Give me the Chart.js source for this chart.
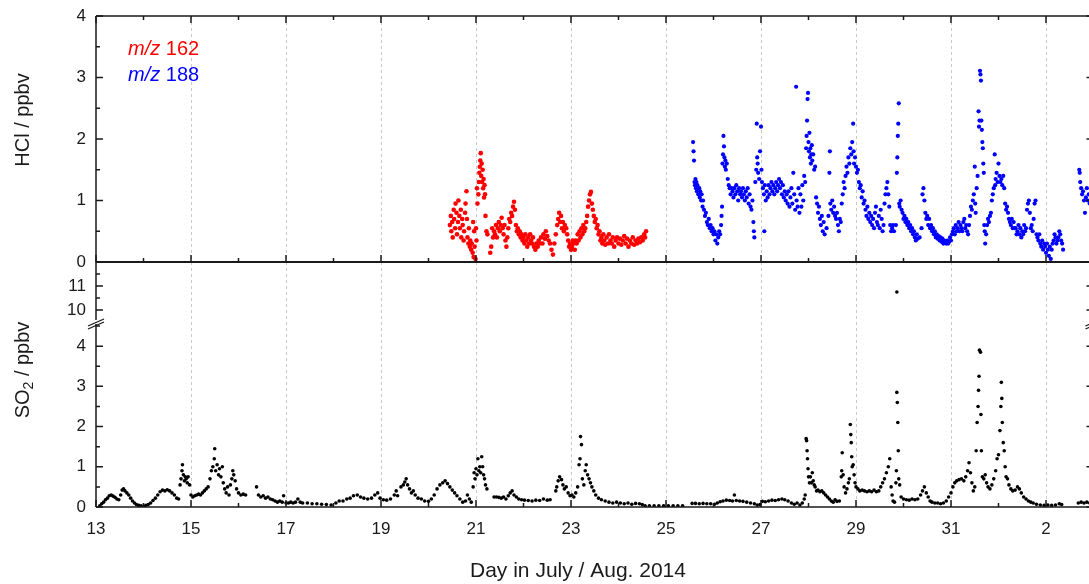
<!DOCTYPE html>
<html>
<head>
<meta charset="utf-8">
<script src="https://cdn.jsdelivr.net/npm/chart.js"></script>
<style>
  html, body { margin: 0; padding: 0; background: #fff; overflow: hidden; }
  #chart { display: block; width: 1100px; height: 584px; }
</style>
</head>
<body>
<canvas id="chart" width="1100" height="584"></canvas>
<script>
// x tick labels (odd days, July 13 .. Aug 2)
const dayTicks = [13, 15, 17, 19, 21, 23, 25, 27, 29, 31, 33];
const dayLabels = ["13", "15", "17", "19", "21", "23", "25", "27", "29", "31", "2"];
const hclTicks = [0, 1, 2, 3, 4];
const so2LowTicks = [0, 1, 2, 3, 4];
const so2HighTicks = [10, 11];

// HCl, m/z 162 [day, ppbv]
const hcl162 = [
  [20.45,0.6],[20.47,0.75],[20.48,0.5],[20.5,0.65],[20.51,0.4],[20.53,0.85],[20.54,0.7],[20.56,0.55],
  [20.57,0.95],[20.59,0.8],[20.6,0.45],[20.62,0.65],[20.63,1.0],[20.65,0.75],[20.66,0.55],[20.68,0.85],
  [20.69,0.4],[20.71,0.7],[20.72,0.6],[20.74,0.35],[20.75,0.5],[20.77,0.8],[20.78,0.95],[20.8,1.15],
  [20.81,0.7],[20.82,0.4],[20.84,0.3],[20.85,0.55],[20.87,0.25],[20.88,0.35],[20.9,0.2],[20.91,0.3],
  [20.93,0.15],[20.94,0.65],[20.95,0.08],[20.96,0.5],[20.97,0.25],[20.99,0.05],[21.0,0.55],[21.01,0.35],
  [21.02,1.2],[21.03,0.95],[21.05,1.1],[21.06,1.3],[21.07,1.45],[21.08,1.55],[21.09,1.65],[21.1,1.77],
  [21.11,1.4],[21.12,1.6],[21.13,1.3],[21.14,1.5],[21.15,1.2],[21.16,1.35],[21.17,1.05],[21.18,1.25],
  [21.19,1.1],[21.2,0.75],[21.22,0.5],[21.24,0.45],[21.3,0.15],[21.32,0.25],[21.34,0.55],[21.36,0.4],
  [21.38,0.5],[21.4,0.45],[21.42,0.6],[21.44,0.4],[21.46,0.55],[21.48,0.65],[21.5,0.5],[21.52,0.6],
  [21.54,0.72],[21.56,0.55],[21.58,0.45],[21.6,0.6],[21.62,0.35],[21.64,0.25],[21.66,0.4],[21.68,0.55],
  [21.7,0.7],[21.72,0.65],[21.74,0.8],[21.76,0.75],[21.78,0.9],[21.8,0.98],[21.82,0.85],[21.84,0.6],
  [21.86,0.5],[21.88,0.55],[21.9,0.45],[21.92,0.5],[21.94,0.4],[21.96,0.45],[21.98,0.35],[22.0,0.4],
  [22.02,0.3],[22.04,0.45],[22.06,0.35],[22.08,0.25],[22.1,0.4],[22.12,0.3],[22.14,0.45],[22.16,0.35],
  [22.18,0.3],[22.2,0.4],[22.22,0.25],[22.25,0.2],[22.27,0.3],[22.3,0.25],[22.32,0.35],[22.34,0.3],
  [22.37,0.4],[22.4,0.3],[22.42,0.45],[22.45,0.38],[22.47,0.5],[22.5,0.42],[22.53,0.35],[22.56,0.3],
  [22.59,0.2],[22.62,0.12],[22.65,0.3],[22.68,0.45],[22.71,0.6],[22.73,0.7],[22.75,0.8],[22.77,0.65],
  [22.79,0.75],[22.81,0.55],[22.83,0.65],[22.85,0.5],[22.87,0.6],[22.9,0.55],[22.92,0.45],[22.94,0.35],
  [22.96,0.25],[22.98,0.3],[23.0,0.2],[23.02,0.25],[23.04,0.35],[23.06,0.3],[23.08,0.2],[23.1,0.35],
  [23.12,0.3],[23.14,0.45],[23.16,0.35],[23.18,0.5],[23.2,0.4],[23.22,0.55],[23.24,0.45],[23.26,0.6],
  [23.28,0.5],[23.3,0.55],[23.32,0.65],[23.34,0.75],[23.36,0.9],[23.38,1.0],[23.4,1.1],[23.42,1.14],
  [23.44,0.95],[23.46,0.85],[23.48,0.75],[23.5,0.65],[23.52,0.7],[23.54,0.55],[23.56,0.6],[23.58,0.45],
  [23.6,0.5],[23.62,0.35],[23.64,0.4],[23.66,0.3],[23.68,0.45],[23.7,0.35],[23.72,0.28],[23.75,0.4],
  [23.78,0.3],[23.8,0.45],[23.83,0.35],[23.86,0.3],[23.88,0.4],[23.91,0.25],[23.94,0.35],[23.97,0.4],
  [24.0,0.3],[24.03,0.38],[24.06,0.28],[24.09,0.35],[24.12,0.42],[24.15,0.3],[24.18,0.38],[24.21,0.25],
  [24.24,0.35],[24.27,0.3],[24.3,0.4],[24.33,0.28],[24.36,0.35],[24.39,0.3],[24.42,0.38],[24.45,0.32],
  [24.48,0.4],[24.51,0.35],[24.54,0.45],[24.56,0.4],[24.58,0.5]
];

// HCl, m/z 188 [day, ppbv]
const hcl188 = [
  [25.57,1.95],[25.58,1.8],[25.59,1.65],[25.6,1.3],[25.61,1.25],[25.62,1.35],[25.63,1.2],[25.64,1.3],
  [25.65,1.15],[25.66,1.25],[25.67,1.2],[25.68,1.1],[25.7,1.2],[25.71,1.05],[25.72,1.15],[25.74,1.0],
  [25.75,1.1],[25.77,0.9],[25.78,1.0],[25.8,0.85],[25.82,0.75],[25.84,0.8],[25.86,0.65],[25.88,0.6],
  [25.9,0.7],[25.92,0.55],[25.94,0.6],[25.96,0.5],[25.98,0.55],[26.0,0.45],[26.02,0.5],[26.04,0.35],
  [26.06,0.45],[26.08,0.3],[26.1,0.4],[26.12,0.5],[26.14,0.45],[26.16,0.6],[26.17,0.75],[26.18,0.9],
  [26.19,1.6],[26.2,1.75],[26.21,2.05],[26.22,1.88],[26.23,1.7],[26.24,1.55],[26.25,1.65],[26.26,1.5],
  [26.28,1.6],[26.3,1.35],[26.32,1.25],[26.34,1.2],[26.36,1.1],[26.38,1.2],[26.4,1.15],[26.42,1.05],
  [26.44,1.2],[26.46,1.1],[26.48,1.25],[26.5,1.15],[26.52,1.0],[26.54,1.2],[26.56,1.1],[26.58,1.15],
  [26.6,1.05],[26.62,1.2],[26.64,1.1],[26.66,1.0],[26.68,1.15],[26.7,1.05],[26.72,1.2],[26.74,0.95],
  [26.76,1.1],[26.78,0.9],[26.8,0.85],[26.82,1.0],[26.84,0.65],[26.85,0.5],[26.86,0.4],[26.88,1.3],
  [26.9,1.5],[26.91,2.25],[26.92,1.7],[26.93,1.6],[26.94,1.45],[26.96,1.35],[26.98,1.8],[27.0,2.2],
  [27.01,1.5],[27.02,1.3],[27.04,1.2],[27.06,1.1],[27.07,0.5],[27.08,1.25],[27.1,1.0],[27.12,1.15],
  [27.14,1.05],[27.16,1.25],[27.18,1.1],[27.2,1.2],[27.22,1.3],[27.24,1.15],[27.26,1.25],[27.28,1.1],
  [27.3,1.2],[27.32,1.3],[27.34,1.15],[27.36,1.25],[27.38,1.35],[27.4,1.2],[27.42,1.3],[27.44,1.1],
  [27.46,1.25],[27.48,1.05],[27.5,1.15],[27.52,1.0],[27.54,1.1],[27.56,0.95],[27.58,1.15],[27.6,0.9],
  [27.62,1.05],[27.64,1.2],[27.66,0.95],[27.68,1.45],[27.7,1.1],[27.72,0.85],[27.74,2.85],[27.75,1.0],
  [27.77,0.9],[27.79,1.2],[27.81,0.8],[27.83,1.1],[27.85,0.9],[27.87,1.25],[27.89,1.0],[27.91,1.4],
  [27.93,1.3],[27.95,1.85],[27.96,2.05],[27.97,2.3],[27.98,2.65],[27.99,2.75],[28.0,1.95],[28.01,1.8],
  [28.02,2.1],[28.03,1.7],[28.04,1.85],[28.05,1.6],[28.06,1.75],[28.07,1.9],[28.08,1.65],[28.1,1.75],
  [28.12,1.5],[28.14,1.55],[28.16,1.05],[28.18,0.95],[28.2,0.8],[28.22,0.9],[28.24,0.7],[28.26,0.6],
  [28.28,0.75],[28.3,0.5],[28.32,0.65],[28.34,0.45],[28.38,0.55],[28.42,0.75],[28.44,1.45],[28.45,1.8],
  [28.46,0.95],[28.48,0.85],[28.5,1.0],[28.52,0.8],[28.54,0.9],[28.56,0.75],[28.58,0.7],[28.6,0.8],
  [28.62,0.6],[28.64,0.5],[28.66,0.7],[28.68,0.65],[28.7,0.95],[28.72,1.1],[28.74,1.3],[28.76,1.2],
  [28.78,1.4],[28.8,1.55],[28.82,1.45],[28.84,1.7],[28.86,1.6],[28.88,1.85],[28.9,1.75],[28.92,1.95],
  [28.94,2.25],[28.95,1.8],[28.96,1.6],[28.98,1.7],[29.0,1.55],[29.02,1.45],[29.04,1.5],[29.06,1.3],
  [29.08,1.2],[29.1,1.25],[29.12,1.05],[29.14,1.15],[29.16,0.95],[29.18,1.0],[29.2,0.85],[29.22,0.75],
  [29.24,0.9],[29.26,0.7],[29.28,0.8],[29.3,0.65],[29.32,0.75],[29.34,0.6],[29.36,0.7],[29.38,0.55],
  [29.4,0.8],[29.42,0.9],[29.44,0.65],[29.46,0.6],[29.48,0.75],[29.5,0.55],[29.52,0.85],[29.54,0.7],
  [29.56,0.5],[29.58,0.6],[29.6,0.95],[29.62,1.1],[29.64,1.2],[29.66,1.3],[29.68,1.1],[29.7,0.9],
  [29.72,0.6],[29.74,0.5],[29.76,0.55],[29.78,0.6],[29.8,0.5],[29.84,0.6],[29.86,1.45],[29.87,1.7],
  [29.88,2.05],[29.89,2.25],[29.9,2.58],[29.91,0.95],[29.92,0.9],[29.94,1.0],[29.96,0.85],[29.98,0.8],
  [30.0,0.7],[30.02,0.75],[30.04,0.65],[30.06,0.7],[30.08,0.6],[30.1,0.65],[30.12,0.55],[30.14,0.6],
  [30.16,0.5],[30.18,0.55],[30.2,0.45],[30.22,0.5],[30.24,0.4],[30.26,0.35],[30.28,0.45],[30.3,0.38],
  [30.34,0.4],[30.38,0.55],[30.4,1.1],[30.42,1.2],[30.44,1.0],[30.46,0.8],[30.48,0.7],[30.5,0.75],
  [30.52,0.6],[30.54,0.7],[30.56,0.55],[30.58,0.6],[30.6,0.5],[30.62,0.55],[30.64,0.45],[30.66,0.5],
  [30.68,0.4],[30.7,0.45],[30.72,0.38],[30.74,0.42],[30.76,0.35],[30.78,0.4],[30.8,0.33],[30.82,0.38],
  [30.84,0.3],[30.86,0.35],[30.88,0.32],[30.9,0.3],[30.92,0.35],[30.94,0.3],[30.96,0.33],[30.98,0.4],
  [31.0,0.35],[31.02,0.45],[31.04,0.5],[31.06,0.55],[31.08,0.45],[31.1,0.6],[31.12,0.5],[31.14,0.55],
  [31.16,0.65],[31.18,0.5],[31.2,0.6],[31.22,0.55],[31.24,0.5],[31.26,0.65],[31.28,0.7],[31.3,0.55],
  [31.32,0.6],[31.34,0.5],[31.36,0.45],[31.38,0.6],[31.4,0.75],[31.42,0.9],[31.44,0.85],[31.46,1.0],
  [31.48,1.1],[31.5,1.55],[31.51,0.95],[31.52,0.8],[31.54,1.2],[31.56,1.4],[31.58,2.45],[31.59,2.2],
  [31.6,2.3],[31.61,3.11],[31.62,3.05],[31.63,2.95],[31.64,2.3],[31.65,2.15],[31.66,1.95],[31.67,1.85],
  [31.68,1.6],[31.69,1.45],[31.7,0.6],[31.71,0.5],[31.72,0.3],[31.74,0.45],[31.76,0.6],[31.78,0.7],
  [31.8,0.65],[31.82,0.75],[31.84,0.8],[31.86,1.0],[31.88,1.1],[31.9,1.2],[31.92,1.75],[31.93,1.25],
  [31.94,1.35],[31.96,1.45],[31.98,1.3],[32.0,1.6],[32.02,1.4],[32.04,1.3],[32.06,1.35],[32.08,1.25],
  [32.1,1.4],[32.12,1.2],[32.14,0.95],[32.16,0.85],[32.18,0.9],[32.2,0.8],[32.22,0.7],[32.24,0.65],
  [32.26,0.6],[32.28,0.7],[32.3,0.55],[32.32,0.65],[32.34,0.55],[32.36,0.55],[32.38,0.45],[32.4,0.5],
  [32.42,0.6],[32.44,0.45],[32.46,0.55],[32.48,0.4],[32.5,0.5],[32.52,0.45],[32.54,0.6],[32.56,0.5],
  [32.58,0.55],[32.6,0.85],[32.62,0.95],[32.64,1.0],[32.66,0.8],[32.68,0.55],[32.7,0.6],[32.72,0.5],
  [32.74,0.7],[32.76,0.95],[32.78,1.0],[32.8,0.45],[32.82,0.4],[32.84,0.35],[32.86,0.45],[32.88,0.3],
  [32.9,0.25],[32.92,0.35],[32.94,0.2],[32.96,0.3],[32.98,0.25],[33.0,0.15],[33.02,0.3],[33.04,0.2],
  [33.06,0.1],[33.08,0.25],[33.1,0.05],[33.12,0.2],[33.14,0.3],[33.16,0.35],[33.18,0.45],[33.2,0.4],
  [33.22,0.3],[33.24,0.35],[33.26,0.4],[33.28,0.5],[33.3,0.45],[33.32,0.35],[33.34,0.3],[33.36,0.2],
  [33.7,1.5],[33.71,1.45],[33.72,1.3],[33.74,1.2],[33.76,1.1],[33.78,1.15],[33.8,1.0],[33.82,0.8],
  [33.84,1.05],[33.86,1.2],[33.88,1.0],[33.9,1.1],[33.92,0.95]
];

// SO2 [day, ppbv]
const so2 = [
  [13.08,0.03],[13.12,0.08],[13.16,0.12],[13.2,0.18],[13.24,0.22],[13.28,0.28],[13.32,0.3],[13.36,0.27],
  [13.4,0.24],[13.44,0.2],[13.48,0.18],[13.52,0.3],[13.55,0.42],[13.58,0.45],[13.61,0.4],[13.65,0.35],
  [13.69,0.3],[13.73,0.22],[13.77,0.15],[13.81,0.1],[13.85,0.06],[13.9,0.04],[13.95,0.03],[14.0,0.02],
  [14.05,0.04],[14.1,0.06],[14.15,0.1],[14.2,0.16],[14.25,0.22],[14.3,0.3],[14.35,0.38],[14.4,0.42],
  [14.45,0.4],[14.5,0.43],[14.55,0.4],[14.6,0.35],[14.65,0.3],[14.7,0.22],[14.74,0.2],[14.77,0.55],
  [14.79,0.7],[14.81,0.9],[14.82,1.05],[14.84,0.8],[14.86,0.65],[14.88,0.75],[14.9,0.7],[14.92,0.6],
  [14.94,0.75],[14.97,0.55],[15.0,0.3],[15.04,0.25],[15.08,0.28],[15.12,0.3],[15.16,0.32],[15.2,0.3],
  [15.24,0.35],[15.28,0.4],[15.32,0.45],[15.36,0.5],[15.4,0.7],[15.43,0.9],[15.46,1.0],[15.49,1.2],
  [15.5,1.45],[15.52,0.9],[15.55,1.05],[15.58,0.8],[15.6,0.95],[15.63,0.75],[15.66,1.0],[15.68,0.6],
  [15.71,0.45],[15.74,0.35],[15.77,0.5],[15.8,0.3],[15.83,0.55],[15.86,0.7],[15.88,0.9],[15.9,0.8],
  [15.93,0.65],[15.96,0.45],[16.0,0.35],[16.05,0.3],[16.1,0.32],[16.15,0.3],[16.38,0.5],[16.42,0.3],
  [16.47,0.25],[16.52,0.28],[16.57,0.22],[16.62,0.25],[16.67,0.2],[16.72,0.18],[16.77,0.15],[16.82,0.12],
  [16.87,0.15],[16.92,0.12],[16.95,0.28],[17.0,0.1],[17.05,0.1],[17.1,0.12],[17.15,0.1],[17.2,0.12],
  [17.25,0.2],[17.3,0.12],[17.35,0.1],[17.45,0.1],[17.55,0.08],[17.65,0.08],[17.75,0.07],[17.85,0.06],
  [17.95,0.05],[18.05,0.1],[18.12,0.15],[18.2,0.15],[18.28,0.2],[18.35,0.22],[18.42,0.28],[18.5,0.3],
  [18.57,0.25],[18.64,0.22],[18.72,0.2],[18.8,0.22],[18.87,0.3],[18.93,0.35],[18.98,0.22],[19.05,0.18],
  [19.12,0.17],[19.2,0.2],[19.28,0.3],[19.32,0.4],[19.35,0.28],[19.42,0.5],[19.47,0.55],[19.5,0.62],
  [19.53,0.7],[19.56,0.55],[19.6,0.45],[19.64,0.35],[19.68,0.4],[19.72,0.3],[19.78,0.22],[19.85,0.2],
  [19.92,0.15],[20.0,0.14],[20.06,0.2],[20.12,0.3],[20.18,0.45],[20.24,0.55],[20.3,0.6],[20.35,0.65],
  [20.4,0.58],[20.45,0.5],[20.5,0.42],[20.55,0.35],[20.6,0.28],[20.66,0.2],[20.72,0.12],[20.78,0.15],
  [20.82,0.3],[20.86,0.2],[20.9,0.12],[20.94,0.5],[20.96,0.85],[20.98,0.7],[21.0,0.95],[21.02,0.8],
  [21.04,1.2],[21.06,0.9],[21.08,1.0],[21.1,0.85],[21.12,1.25],[21.14,1.0],[21.16,0.8],[21.18,0.7],
  [21.2,0.55],[21.23,0.45],[21.38,0.25],[21.43,0.25],[21.48,0.24],[21.53,0.22],[21.58,0.25],[21.63,0.2],
  [21.68,0.28],[21.72,0.35],[21.76,0.4],[21.8,0.3],[21.85,0.25],[21.9,0.2],[21.96,0.18],[22.02,0.17],
  [22.1,0.16],[22.18,0.15],[22.26,0.17],[22.34,0.16],[22.42,0.2],[22.5,0.17],[22.56,0.18],[22.68,0.4],
  [22.7,0.5],[22.73,0.65],[22.76,0.75],[22.8,0.68],[22.83,0.55],[22.86,0.45],[22.9,0.5],[22.94,0.35],
  [22.98,0.28],[23.02,0.3],[23.06,0.25],[23.1,0.35],[23.14,0.5],[23.17,1.05],[23.19,1.2],[23.2,1.75],
  [23.22,1.55],[23.24,0.7],[23.27,0.55],[23.3,0.9],[23.32,1.05],[23.35,0.8],[23.38,0.7],[23.41,0.6],
  [23.44,0.5],[23.48,0.4],[23.52,0.3],[23.58,0.22],[23.64,0.18],[23.72,0.15],[23.8,0.12],[23.88,0.1],
  [23.96,0.12],[24.04,0.1],[24.12,0.08],[24.2,0.1],[24.28,0.07],[24.36,0.09],[24.44,0.08],[24.5,0.06],
  [24.56,0.03],[24.65,0.03],[24.75,0.03],[24.85,0.03],[24.95,0.03],[25.05,0.03],[25.15,0.03],[25.25,0.03],
  [25.35,0.03],
  [25.55,0.09],[25.62,0.09],[25.7,0.08],[25.78,0.09],[25.86,0.08],[25.94,0.08],[26.02,0.07],[26.08,0.1],
  [26.14,0.13],[26.2,0.15],[26.27,0.17],[26.34,0.16],[26.4,0.15],[26.44,0.3],[26.48,0.16],[26.55,0.15],
  [26.62,0.14],[26.7,0.12],[26.78,0.1],[26.86,0.08],[26.92,0.05],[26.98,0.06],[27.03,0.14],[27.09,0.13],
  [27.16,0.15],[27.23,0.17],[27.3,0.16],[27.37,0.18],[27.44,0.2],[27.5,0.18],[27.57,0.15],[27.64,0.1],
  [27.7,0.07],[27.76,0.1],[27.82,0.05],[27.87,0.1],[27.91,0.2],[27.93,0.3],[27.95,1.7],[27.96,1.65],
  [27.97,1.4],[27.98,1.2],[27.99,0.95],[28.0,0.75],[28.02,0.6],[28.04,0.75],[28.06,0.6],[28.08,0.85],
  [28.1,0.65],[28.12,0.55],[28.14,0.5],[28.17,0.4],[28.2,0.42],[28.24,0.38],[28.28,0.4],[28.32,0.35],
  [28.36,0.3],[28.4,0.25],[28.44,0.2],[28.48,0.15],[28.52,0.12],[28.56,0.18],[28.6,0.14],[28.65,0.15],
  [28.69,0.75],[28.7,0.9],[28.71,1.35],[28.73,0.8],[28.75,0.5],[28.78,0.35],[28.81,0.45],[28.84,0.6],
  [28.86,0.7],[28.88,2.05],[28.89,1.8],[28.9,1.6],[28.91,1.25],[28.92,1.0],[28.94,1.05],[28.96,0.8],
  [28.98,0.6],[29.0,0.5],[29.04,0.45],[29.08,0.4],[29.13,0.42],[29.18,0.4],[29.23,0.38],[29.28,0.4],
  [29.33,0.38],[29.38,0.42],[29.43,0.38],[29.48,0.4],[29.52,0.5],[29.56,0.6],[29.6,0.7],[29.64,0.85],
  [29.68,1.0],[29.71,1.2],[29.74,0.5],[29.76,0.3],[29.78,0.15],[29.81,0.12],[29.84,0.6],[29.85,0.9],
  [29.86,2.85],[29.86,10.75],[29.87,2.6],[29.88,2.1],[29.89,1.4],[29.9,0.7],[29.92,0.55],[29.95,0.25],
  [30.0,0.2],[30.06,0.18],[30.12,0.17],[30.18,0.2],[30.24,0.18],[30.3,0.2],[30.36,0.3],[30.4,0.4],
  [30.44,0.5],[30.48,0.35],[30.52,0.25],[30.56,0.15],[30.6,0.12],[30.66,0.1],[30.72,0.1],[30.78,0.08],
  [30.84,0.1],[30.9,0.15],[30.95,0.25],[31.0,0.35],[31.04,0.5],[31.08,0.6],[31.12,0.65],[31.17,0.68],
  [31.22,0.7],[31.27,0.65],[31.31,0.75],[31.35,0.9],[31.38,1.1],[31.41,0.85],[31.44,0.6],[31.47,0.4],
  [31.5,0.5],[31.53,1.4],[31.55,2.1],[31.57,2.5],[31.58,2.9],[31.59,3.25],[31.6,3.9],[31.62,3.85],
  [31.63,2.3],[31.64,1.4],[31.66,0.75],[31.69,0.7],[31.72,0.8],[31.75,0.6],[31.78,0.5],[31.82,0.45],
  [31.86,0.55],[31.9,0.7],[31.94,0.9],[31.97,1.2],[32.0,1.3],[32.03,1.9],[32.05,2.5],[32.06,3.1],
  [32.07,2.7],[32.08,2.1],[32.1,1.6],[32.12,1.4],[32.14,1.0],[32.16,0.75],[32.19,0.7],[32.22,0.55],
  [32.26,0.45],[32.3,0.4],[32.35,0.42],[32.4,0.5],[32.44,0.45],[32.48,0.35],[32.53,0.25],[32.58,0.2],
  [32.63,0.15],[32.68,0.12],[32.73,0.1],[32.8,0.07],[32.88,0.05],[32.96,0.04],[33.04,0.05],[33.12,0.04],
  [33.2,0.05],[33.28,0.08],[33.33,0.06],
  [33.68,0.1],[33.74,0.12],[33.8,0.1],[33.86,0.12],[33.92,0.1]
];

const FONT = "'Liberation Sans', Arial, sans-serif";
const INK = "#1a1a1a";
const toXY = arr => arr.map(p => ({ x: p[0], y: p[1] }));

// inward ticks, frame, axis break, legend and axis titles
const decorPlugin = {
  id: "decor",
  afterDraw(chart) {
    const { ctx, chartArea: a, scales } = chart;
    const hcl = scales.hcl, hi = scales.so2High, lo = scales.so2Low, x = scales.x;
    const midY = hcl.bottom;
    const breakY = hi.bottom;
    ctx.save();
    ctx.strokeStyle = INK;
    ctx.lineWidth = 1.5;

    // frame
    ctx.beginPath();
    ctx.moveTo(a.left, a.top); ctx.lineTo(a.right, a.top);
    ctx.moveTo(a.right, a.top); ctx.lineTo(a.right, a.bottom);
    ctx.moveTo(a.left, a.bottom); ctx.lineTo(a.right, a.bottom);
    ctx.moveTo(a.left, a.top); ctx.lineTo(a.left, a.bottom);
    ctx.stroke();
    ctx.lineWidth = 2;
    ctx.beginPath();
    ctx.moveTo(a.left, midY); ctx.lineTo(a.right, midY);
    ctx.stroke();

    // x ticks (every day)
    ctx.lineWidth = 1.5;
    ctx.beginPath();
    for (let d = x.min; d <= x.max; d++) {
      const px = x.getPixelForValue(d);
      const len = d % 2 === 1 ? 7 : 4;
      ctx.moveTo(px, a.bottom); ctx.lineTo(px, a.bottom - len);
      ctx.moveTo(px, midY); ctx.lineTo(px, midY - len);
      ctx.moveTo(px, a.top); ctx.lineTo(px, a.top + len);
    }
    // y ticks, major + half-step minor, both sides
    const yTicks = (scale, majors) => {
      majors.forEach(v => {
        [[v, 7], [v + 0.5, 4]].forEach(([val, len]) => {
          if (val < scale.min || val > scale.max) return;
          const py = scale.getPixelForValue(val);
          ctx.moveTo(a.left, py); ctx.lineTo(a.left + len, py);
          ctx.moveTo(a.right, py); ctx.lineTo(a.right - len, py);
        });
      });
    };
    yTicks(hcl, hclTicks);
    yTicks(lo, so2LowTicks);
    yTicks(hi, so2HighTicks);
    ctx.stroke();

    // axis break marks
    [a.left, a.right].forEach(ax => {
      ctx.fillStyle = "#fff";
      ctx.fillRect(ax - 3, breakY - 2, 6, 4);
      ctx.lineWidth = 1.3;
      ctx.beginPath();
      ctx.moveTo(ax - 8, breakY + 4); ctx.lineTo(ax + 8, breakY - 3);
      ctx.moveTo(ax - 8, breakY + 7); ctx.lineTo(ax + 8, breakY);
      ctx.stroke();
    });

    // legend
    const legend = (y, color, num) => {
      ctx.fillStyle = color;
      ctx.textBaseline = "alphabetic";
      ctx.textAlign = "left";
      ctx.font = "italic 20px " + FONT;
      ctx.fillText("m/z", 128, y);
      const w = ctx.measureText("m/z ").width;
      ctx.font = "20px " + FONT;
      ctx.fillText(num, 128 + w, y);
    };
    legend(55, "#ff0000", "162");
    legend(81, "#0000ff", "188");

    // x title
    ctx.fillStyle = INK;
    ctx.textBaseline = "alphabetic";
    ctx.textAlign = "center";
    ctx.font = "21px " + FONT;
    ctx.fillText("Day in July / Aug. 2014", 578, 577);

    // y titles
    ctx.font = "20px " + FONT;
    ctx.save();
    ctx.translate(29, 120);
    ctx.rotate(-Math.PI / 2);
    ctx.fillText("HCl / ppbv", 0, 0);
    ctx.restore();

    ctx.save();
    ctx.translate(29, 370);
    ctx.rotate(-Math.PI / 2);
    ctx.textAlign = "left";
    const p1 = "SO", p2 = "2", p3 = " / ppbv";
    ctx.font = "20px " + FONT;
    const w1 = ctx.measureText(p1).width, w3 = ctx.measureText(p3).width;
    ctx.font = "14px " + FONT;
    const w2 = ctx.measureText(p2).width;
    let cx = -(w1 + w2 + w3) / 2;
    ctx.font = "20px " + FONT;
    ctx.fillText(p1, cx, 0); cx += w1;
    ctx.font = "14px " + FONT;
    ctx.fillText(p2, cx, 4); cx += w2;
    ctx.font = "20px " + FONT;
    ctx.fillText(p3, cx, 0);
    ctx.restore();

    ctx.restore();
  }
};

// keep Chart.js from reserving extra room for tick labels at the plot edges
const noEdgePadding = s => {
  s.paddingTop = 0; s.paddingBottom = 0; s.paddingLeft = 0; s.paddingRight = 0;
};

const yAxis = (weight, min, max, ticksList) => ({
  type: "linear",
  position: "left",
  stack: "panels",
  stackWeight: weight,
  min: min,
  max: max,
  afterBuildTicks: s => { s.ticks = ticksList.map(v => ({ value: v })); },
  afterFit: s => { s.width = 96; noEdgePadding(s); },
  grid: { display: false, drawTicks: false },
  border: { display: false },
  ticks: {
    padding: 10,
    color: INK,
    font: { family: FONT, size: 17 }
  }
});

new Chart(document.getElementById("chart"), {
  type: "scatter",
  data: {
    datasets: [
      { label: "m/z 162", data: toXY(hcl162), yAxisID: "hcl",
        backgroundColor: "#ff0000", pointRadius: 2.3, pointBorderWidth: 0 },
      { label: "m/z 188", data: toXY(hcl188), yAxisID: "hcl",
        backgroundColor: "#0000ff", pointRadius: 2.1, pointBorderWidth: 0 },
      { label: "SO2", data: toXY(so2.filter(p => p[1] < 5)), yAxisID: "so2Low",
        backgroundColor: "#000", pointRadius: 1.8, pointBorderWidth: 0 },
      { label: "SO2 high", data: toXY(so2.filter(p => p[1] >= 5)), yAxisID: "so2High",
        backgroundColor: "#000", pointRadius: 1.8, pointBorderWidth: 0 }
    ]
  },
  options: {
    responsive: false,
    animation: false,
    devicePixelRatio: 1,
    layout: { padding: { top: 16, right: 6.5, left: 0, bottom: 0 } },
    plugins: { legend: { display: false }, tooltip: { enabled: false } },
    scales: {
      x: {
        type: "linear",
        min: 13,
        max: 34,
        afterBuildTicks: s => {
          const t = [];
          for (let d = 13; d <= 34; d++) t.push({ value: d });
          s.ticks = t;
        },
        afterFit: s => { s.height = 77; noEdgePadding(s); },
        grid: {
          drawTicks: false,
          lineWidth: 1,
          color: c => (c.tick && dayTicks.includes(c.tick.value) && c.tick.value > 13) ? "#c8c8c8" : "rgba(0,0,0,0)"
        },
        border: { display: false, dash: [3, 3] },
        ticks: {
          autoSkip: false,
          maxRotation: 0,
          padding: 12,
          color: INK,
          font: { family: FONT, size: 17 },
          callback: v => {
            const i = dayTicks.indexOf(v);
            return i >= 0 ? dayLabels[i] : "";
          }
        },
        title: { display: false }
      },
      so2Low: yAxis(185, 0, 4.6, so2LowTicks),
      so2High: yAxis(60, 9.5, 12, so2HighTicks),
      hcl: yAxis(246, 0, 4, hclTicks)
    }
  },
  plugins: [decorPlugin]
});
</script>
</body>
</html>
